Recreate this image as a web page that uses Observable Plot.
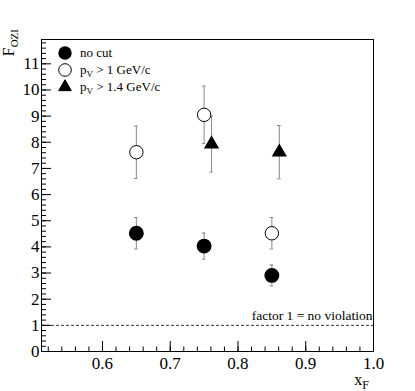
<!DOCTYPE html>
<html><head><meta charset="utf-8">
<script src="https://cdn.jsdelivr.net/npm/d3@7"></script>
<script src="https://cdn.jsdelivr.net/npm/@observablehq/plot@0.6"></script>
<style>body{margin:0;background:#fff} svg text, svg tspan{font-family:"Liberation Serif","Times New Roman",serif !important}</style>
</head><body><div id="chart"></div>
<script>
const seriesNames = ["no cut", "p_V > 1 GeV/c", "p_V > 1.4 GeV/c"];
const noCutX = [0.65, 0.75, 0.85];
const noCutY = [4.52, 4.03, 2.91];
const noCutErr = [0.6, 0.5, 0.4];
const cut1X = [0.65, 0.75, 0.85];
const cut1Y = [7.62, 9.05, 4.52];
const cut1Err = [1.0, 1.1, 0.6];
const cut14X = [0.761, 0.861];
const cut14Y = [7.93, 7.62];
const cut14Err = [1.07, 1.02];
const xMajor = [0.6, 0.7, 0.8, 0.9, 1.0];
const xMinor = d3.range(0.52, 0.995, 0.02);
const yMajor = [0, 1, 2, 3, 4, 5, 6, 7, 8, 9, 10, 11];
const yMinor = d3.range(0, 11.9, 0.2);
const refLine = [1];
const refText = "factor 1 = no violation";

const mk = (xs, ys, es, s) => xs.map((x, i) => ({x, y: ys[i], lo: ys[i] - es[i], hi: ys[i] + es[i], s}));
const data = [...mk(noCutX, noCutY, noCutErr, 0), ...mk(cut1X, cut1Y, cut1Err, 1), ...mk(cut14X, cut14Y, cut14Err, 2)];
const capW = 0.0027;
const errC = "#888";

const plot = Plot.plot({
  width: 415, height: 391,
  marginLeft: 41, marginRight: 42, marginTop: 39, marginBottom: 40,
  x: {domain: [0.51, 1.0]},
  y: {domain: [0, 11.93]},
  style: {fontFamily: "'Liberation Serif', serif", fontSize: "16px", background: "white", color: "black"},
  marks: [
    Plot.ruleY(refLine, {y: d => d, stroke: "black", strokeWidth: 0.8, strokeDasharray: "3,2"}),
    Plot.text(refLine, {y: d => d, text: () => refText, frameAnchor: "right", textAnchor: "end", lineAnchor: "bottom", dy: -5, dx: -1, fontSize: 13.5}),
    Plot.axisX({ticks: xMinor, tickSize: -4.5, tickFormat: () => "", label: null}),
    Plot.axisX({ticks: xMajor, tickSize: -10, tickFormat: () => "", label: null}),
    Plot.axisX({ticks: xMajor, tickSize: 0, tickPadding: 5, tickFormat: d3.format(".1f"), label: null, fontSize: 17}),
    Plot.axisY({ticks: yMinor, tickSize: -5, tickFormat: () => "", label: null}),
    Plot.axisY({ticks: yMajor, tickSize: -10, tickFormat: () => "", label: null}),
    Plot.axisY({ticks: yMajor, tickSize: 0, tickPadding: 2, tickFormat: d3.format("d"), label: null, fontSize: 17}),
    Plot.ruleX(data, {x: "x", y1: "lo", y2: "hi", stroke: errC, strokeWidth: 1}),
    Plot.ruleY(data, {y: "lo", x1: d => d.x - capW, x2: d => d.x + capW, stroke: errC}),
    Plot.ruleY(data, {y: "hi", x1: d => d.x - capW, x2: d => d.x + capW, stroke: errC}),
    Plot.dot(data.filter(d => d.s === 0), {x: "x", y: "y", r: 6.7, fill: "black", stroke: "black"}),
    Plot.dot(data.filter(d => d.s === 1), {x: "x", y: "y", r: 6.7, fill: "white", stroke: "black", strokeWidth: 1}),
    Plot.dot(data.filter(d => d.s === 2), {x: "x", y: "y", r: 4.7, symbol: "triangle", fill: "black", stroke: "black"}),
    Plot.frame({stroke: "black", strokeWidth: 1})
  ]
});
document.getElementById("chart").append(plot);

const svg = d3.select(plot);
// Y label F_OZI
const yl = svg.append("text").attr("transform", "translate(14,29) rotate(-90)").attr("text-anchor", "end").attr("font-size", 16);
yl.append("tspan").text("F");
yl.append("tspan").attr("font-size", 11).attr("dy", 4).text("OZI");
// X label x_F
const xl = svg.append("text").attr("x", 369).attr("y", 385).attr("text-anchor", "end").attr("font-size", 16);
xl.append("tspan").text("x");
xl.append("tspan").attr("font-size", 12).attr("dy", 4).text("F");

// legend
const lg = svg.append("g");
const ly = [53, 70, 87];
lg.append("circle").attr("cx", 65).attr("cy", ly[0]).attr("r", 6.7).attr("fill", "black");
lg.append("circle").attr("cx", 65).attr("cy", ly[1]).attr("r", 6.3).attr("fill", "white").attr("stroke", "black");
lg.append("path").attr("transform", `translate(65,${ly[2]})`).attr("d", d3.symbol(d3.symbolTriangle, Math.PI * 4.7 * 4.7)()).attr("fill", "black").attr("stroke", "black");
seriesNames.forEach((name, i) => {
  const t = lg.append("text").attr("x", 80).attr("y", ly[i] + 4).attr("font-size", 13).attr("text-anchor", "start");
  const m = name.match(/^p_V(.*)$/);
  if (m) {
    t.append("tspan").text("p");
    t.append("tspan").attr("font-size", 9).attr("dy", 3).text("V");
    t.append("tspan").attr("dy", -3).text(m[1]);
  } else t.text(name);
});
</script>
</body></html>
